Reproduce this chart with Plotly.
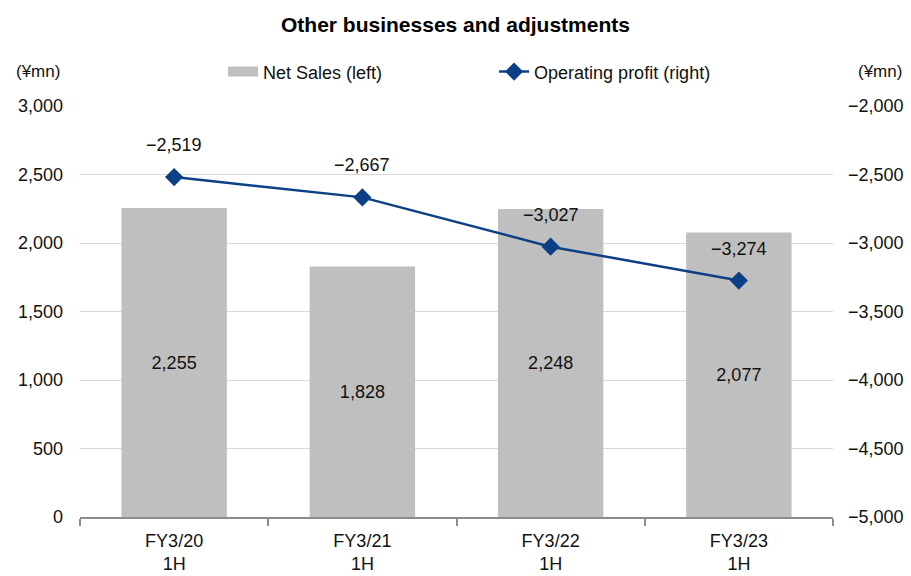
import plotly.graph_objects as go

categories = ["FY3/20<br>1H", "FY3/21<br>1H", "FY3/22<br>1H", "FY3/23<br>1H"]
net_sales = [2255, 1828, 2248, 2077]
op_profit = [-2519, -2667, -3027, -3274]
left_ticks = [0, 500, 1000, 1500, 2000, 2500, 3000]
right_ticks = [-5000, -4500, -4000, -3500, -3000, -2500, -2000]

FONT = "Liberation Sans, Arial, sans-serif"
BLUE = "#0c3f85"
GRAY = "#bfbfbf"
TXT = "#111111"


def fmt(v):
    s = f"{abs(v):,}"
    return ("\u2212" + s) if v < 0 else s


fig = go.Figure()
# legend proxy for the bars (wide grey swatch like the original)
fig.add_trace(go.Scatter(
    x=[None], y=[None], mode="lines", name="Net Sales (left)",
    line=dict(color=GRAY, width=10), hoverinfo="skip",
))
fig.add_trace(go.Bar(
    x=categories, y=net_sales, name="Net Sales (left)", showlegend=False,
    marker=dict(color=GRAY, line=dict(width=0)),
    text=[fmt(v) for v in net_sales], textposition="inside",
    insidetextanchor="middle", textangle=0,
    textfont=dict(family=FONT, size=18, color=TXT),
    yaxis="y",
))
fig.add_trace(go.Scatter(
    x=categories, y=op_profit, name="Operating profit (right)",
    mode="lines+markers",
    line=dict(color=BLUE, width=2.5),
    marker=dict(symbol="diamond", size=14, color=BLUE),
    yaxis="y2",
))

for c, v in zip(categories, op_profit):
    fig.add_annotation(x=c, y=v, yref="y2", text=fmt(v), showarrow=False,
                       yshift=32, font=dict(family=FONT, size=18, color=TXT))

fig.add_annotation(xref="paper", yref="paper", x=-0.056, y=1.083, text="(\u00a5mn)",
                   showarrow=False, xanchor="center", yanchor="middle",
                   font=dict(family=FONT, size=17, color=TXT))
fig.add_annotation(xref="paper", yref="paper", x=1.063, y=1.083, text="(\u00a5mn)",
                   showarrow=False, xanchor="center", yanchor="middle",
                   font=dict(family=FONT, size=17, color=TXT))

fig.update_layout(
    width=911, height=576,
    margin=dict(l=80, r=78, t=106, b=59),
    paper_bgcolor="white", plot_bgcolor="white",
    font=dict(family=FONT, size=18, color=TXT),
    title=dict(text="Other businesses and adjustments", x=0.5, xanchor="center",
               y=0.958, yanchor="middle",
               font=dict(family=FONT, size=21, color="#000000", weight="bold")),
    bargap=0.44,
    showlegend=True,
    legend=dict(orientation="h", x=0.19, xanchor="left", y=1.083, yanchor="middle",
                font=dict(family=FONT, size=18, color=TXT), entrywidth=226,
                entrywidthmode="pixels",
                bgcolor="rgba(0,0,0,0)", traceorder="normal"),
    xaxis=dict(
        type="category", range=[-0.5, 3.5], automargin=False,
        showline=True, linecolor="#8c8c8c", linewidth=2,
        ticks="outside", tickson="boundaries", ticklen=7, tickcolor="#8c8c8c", tickwidth=2,
        showgrid=False, ticklabelstandoff=6,
        tickfont=dict(family=FONT, size=18, color=TXT),
    ),
    yaxis=dict(
        range=[0, 3000], tickvals=left_ticks, ticktext=[fmt(v) for v in left_ticks],
        showgrid=True, gridcolor="#d9d9d9", gridwidth=1, zeroline=False, automargin=False,
        showline=False, ticks="", ticklabelstandoff=16,
        tickfont=dict(family=FONT, size=18, color=TXT),
    ),
    yaxis2=dict(
        range=[-5000, -2000], overlaying="y", side="right", automargin=False,
        tickvals=right_ticks, ticktext=[fmt(v) for v in right_ticks],
        showgrid=False, zeroline=False, showline=False, ticks="", ticklabelstandoff=14,
        tickfont=dict(family=FONT, size=18, color=TXT),
    ),
)

fig.write_html("out.html")
